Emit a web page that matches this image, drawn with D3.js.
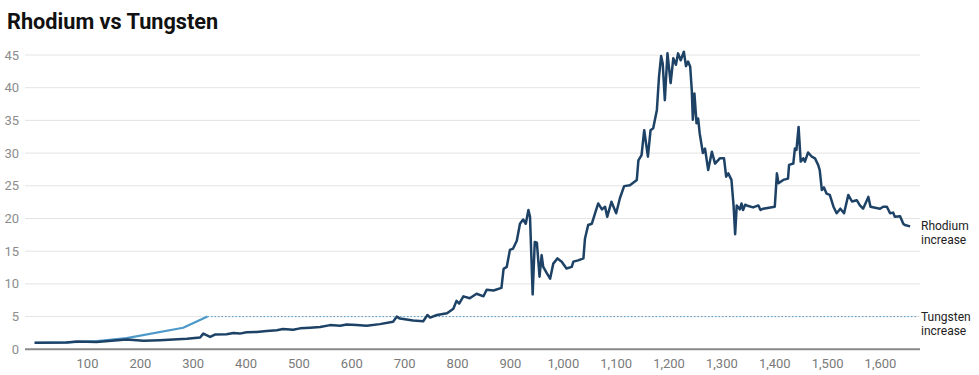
<!DOCTYPE html>
<html>
<head>
<meta charset="utf-8">
<script src="https://cdnjs.cloudflare.com/ajax/libs/d3/7.8.5/d3.min.js"></script>
<style>
  body { margin: 0; background: #fff; font-family: Roboto, "Noto Sans", sans-serif; }
  svg { display: block; }
</style>
</head>
<body>
<div id="chart"></div>
<script>
// values (x = day index, y = increase factor)
var rhodiumX = [1, 62, 81, 118, 175, 207, 238, 263, 289, 314, 320, 333, 342, 364, 377, 389, 402, 421, 440, 459,
  471, 490, 503, 522, 541, 560, 579, 591, 610, 629, 654, 679, 686, 692, 717, 736, 744, 749, 762, 781,
  793, 799, 804, 812, 824, 837, 850, 856, 869, 884, 888, 894, 900, 906, 913, 919, 925, 930, 935, 938,
  943, 947, 951, 956, 960, 963, 970, 976, 982, 990, 998, 1007, 1017, 1020, 1029, 1039, 1042, 1048, 1055, 1061,
  1067, 1074, 1080, 1084, 1092, 1101, 1108, 1116, 1127, 1140, 1143, 1149, 1154, 1161, 1166, 1171, 1178, 1182, 1186, 1189,
  1193, 1198, 1204, 1209, 1214, 1218, 1223, 1229, 1233, 1237, 1241, 1244, 1246, 1249, 1253, 1256, 1259, 1265, 1269, 1275,
  1282, 1288, 1297, 1305, 1309, 1313, 1319, 1323, 1326, 1329, 1335, 1338, 1341, 1345, 1351, 1360, 1370, 1374, 1379, 1401, 1405, 1408,
  1417, 1426, 1428, 1436, 1439, 1442, 1446, 1450, 1455, 1458, 1464, 1471, 1477, 1483, 1486, 1490, 1494, 1499, 1505, 1512,
  1518, 1525, 1532, 1540, 1547, 1556, 1562, 1568, 1578, 1582, 1600, 1606, 1613, 1619, 1625, 1628, 1638, 1644, 1647, 1657];
var rhodiumY = [1.0, 1.05, 1.18, 1.12, 1.48, 1.3, 1.4, 1.5, 1.6, 1.8, 2.4, 1.9, 2.25, 2.3, 2.5, 2.4, 2.6, 2.65, 2.8, 2.9,
  3.1, 3.0, 3.2, 3.3, 3.4, 3.7, 3.6, 3.8, 3.7, 3.6, 3.85, 4.2, 5.0, 4.7, 4.4, 4.3, 5.25, 4.85, 5.25, 5.5,
  6.2, 7.4, 7.0, 8.1, 7.8, 8.5, 8.1, 9.1, 9.0, 9.4, 12.3, 12.6, 15.2, 15.4, 16.6, 19.2, 19.85, 19.2, 21.3, 20.25,
  8.4, 16.4, 16.3, 11.1, 14.4, 12.6, 11.6, 10.8, 13.1, 13.9, 13.4, 12.35, 12.6, 13.4, 13.6, 13.9, 16.95, 19.0, 19.2, 20.8,
  22.3, 21.4, 21.8, 20.25, 22.55, 20.8, 23.1, 24.95, 25.1, 25.9, 28.9, 29.7, 33.5, 29.45, 33.5, 33.8, 36.6, 41.7, 44.85, 43.7,
  38.1, 45.25, 40.7, 44.5, 43.5, 45.25, 44.2, 45.5, 43.3, 44.0, 43.2, 39.6, 35.1, 39.1, 34.55, 35.3, 33.0, 30.0, 30.7, 27.4,
  30.2, 28.4, 29.2, 29.2, 26.4, 26.9, 25.9, 22.0, 17.6, 22.0, 21.4, 22.3, 21.3, 22.1, 21.9, 21.7, 22.0, 21.3, 21.5, 21.8, 26.9, 25.4,
  25.9, 26.1, 28.2, 28.4, 30.7, 30.5, 34.0, 28.7, 29.2, 28.7, 30.1, 29.45, 29.2, 28.2, 27.4, 24.35, 24.75, 23.8, 23.6, 21.8,
  20.8, 21.5, 20.8, 23.6, 22.6, 22.8, 22.0, 21.5, 23.3, 21.8, 21.5, 21.8, 21.8, 20.8, 20.9, 20.25, 20.35, 19.2, 19.0, 18.8];
var tungstenX = [1, 60, 120, 175, 282, 328];
var tungstenY = [1.0, 1.05, 1.25, 1.7, 3.3, 5.0];
var yTicks = [0, 5, 10, 15, 20, 25, 30, 35, 40, 45];
var xTicks = [100, 200, 300, 400, 500, 600, 700, 800, 900, 1000, 1100, 1200, 1300, 1400, 1500, 1600];
var title = "Rhodium vs Tungsten";

var W = 979, H = 375;
var left = 25, right = 920;

var svg = d3.select("#chart").append("svg")
    .attr("width", W)
    .attr("height", H);

var x = d3.scaleLinear().domain([0, 1680]).range([34.1, 922.3]);
var y = d3.scaleLinear().domain([0, 45]).range([349.3, 55]);

svg.append("text")
    .attr("x", 7)
    .attr("y", 29)
    .attr("font-size", 21.7)
    .attr("font-weight", "bold")
    .attr("fill", "#111")
    .text(title);

// gridlines
svg.selectAll("line.grid")
    .data(yTicks.filter(function (d) { return d > 0; }))
    .enter()
    .append("line")
    .attr("class", "grid")
    .attr("x1", left)
    .attr("x2", right)
    .attr("y1", function (d) { return y(d); })
    .attr("y2", function (d) { return y(d); })
    .attr("stroke", "#e4e4e4")
    .attr("stroke-width", 1);

svg.selectAll("text.ylab")
    .data(yTicks)
    .enter()
    .append("text")
    .attr("class", "ylab")
    .attr("x", 19)
    .attr("y", function (d) { return y(d); })
    .attr("dy", "0.35em")
    .attr("text-anchor", "end")
    .attr("font-size", 13)
    .attr("fill", "#8c8c8c")
    .text(function (d) { return d; });

// x axis
var xAxis = d3.axisBottom(x)
    .tickValues(xTicks)
    .tickSize(0)
    .tickPadding(9)
    .tickFormat(d3.format(","));

var gx = svg.append("g")
    .attr("transform", "translate(0," + y(0) + ")")
    .call(xAxis);
gx.select(".domain").remove();
gx.selectAll("text")
    .attr("font-size", 13)
    .attr("font-family", "Roboto, sans-serif")
    .attr("fill", "#7a7a7a");

svg.append("line")
    .attr("x1", left)
    .attr("x2", right)
    .attr("y1", y(0))
    .attr("y2", y(0))
    .attr("stroke", "#8a8a8a")
    .attr("stroke-width", 2);

// tungsten dotted continuation
var tLast = tungstenX.length - 1;
svg.append("line")
    .attr("x1", x(tungstenX[tLast]))
    .attr("x2", 918)
    .attr("y1", y(tungstenY[tLast]))
    .attr("y2", y(tungstenY[tLast]))
    .attr("stroke", "#5a9bc9")
    .attr("stroke-width", 1)
    .attr("stroke-dasharray", "1.5,2");

var line = d3.line()
    .x(function (d) { return x(d[0]); })
    .y(function (d) { return y(d[1]); });

svg.append("path")
    .datum(d3.zip(tungstenX, tungstenY))
    .attr("d", line)
    .attr("fill", "none")
    .attr("stroke", "#4c98c9")
    .attr("stroke-width", 2.2)
    .attr("stroke-linejoin", "round");

svg.append("path")
    .datum(d3.zip(rhodiumX, rhodiumY))
    .attr("d", line)
    .attr("fill", "none")
    .attr("stroke", "#1d4266")
    .attr("stroke-width", 2.5)
    .attr("stroke-linejoin", "round");

// end labels
function endLabel(lines, yv) {
    var t = svg.append("text")
        .attr("x", 921)
        .attr("y", y(yv) + 4)
        .attr("font-size", 12)
        .attr("fill", "#222");
    lines.forEach(function (s, i) {
        t.append("tspan").attr("x", 921).attr("dy", i === 0 ? 0 : 14).text(s);
    });
}
endLabel(["Rhodium", "increase"], rhodiumY[rhodiumY.length - 1]);
endLabel(["Tungsten", "increase"], tungstenY[tLast]);
</script>
</body>
</html>
